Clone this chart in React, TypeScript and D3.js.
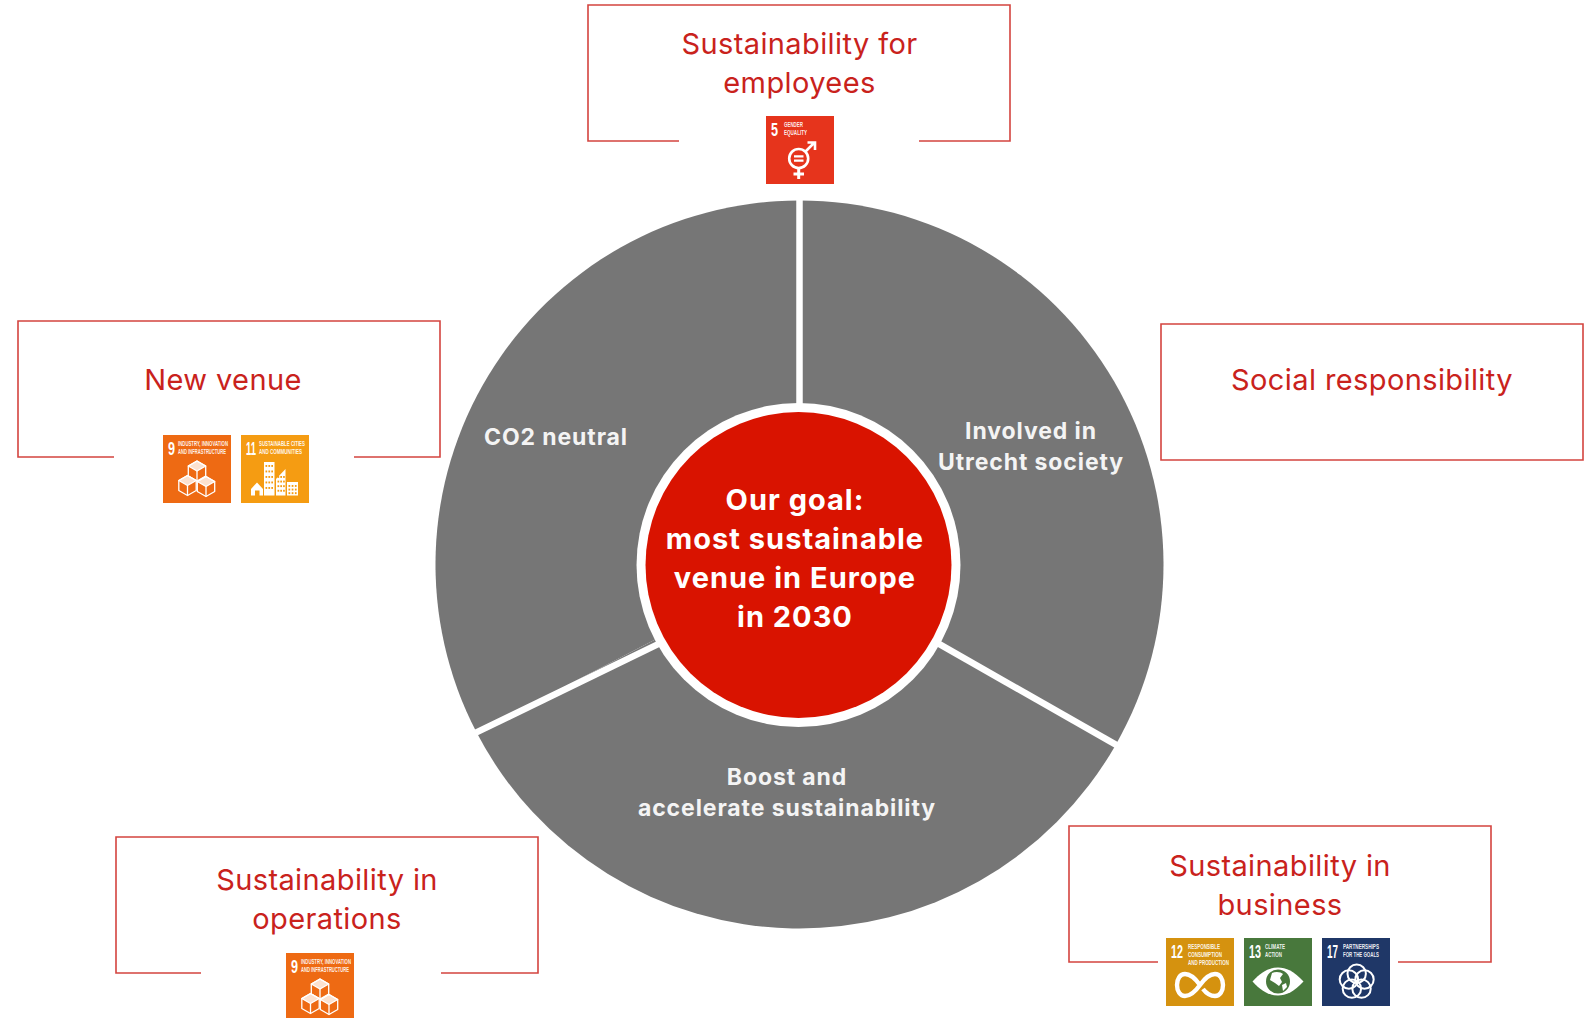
import React from "react";
import * as d3 from "d3";

const W = 1592;
const H = 1018;

// Data
const sliceNames = ["Involved in Utrecht society", "Boost and accelerate sustainability", "CO2 neutral"];
const sliceDegrees = [119.66, 122.89, 117.45];
const dividerOuterDegrees = [0, 119.66, 242.55];
const dividerInnerDegrees = [0, 119.66, 240.54];

const goalLines = ["Our goal:", "most sustainable", "venue in Europe", "in 2030"];
const boxTitles = [
  ["Sustainability for", "employees"],
  ["New venue"],
  ["Social responsibility"],
  ["Sustainability in", "business"],
  ["Sustainability in", "operations"],
];
const boxGoals = [[5], [9, 11], [], [12, 13, 17], [9]];

const sdgColors: Record<number, string> = { 5: "#e6341c", 9: "#ee6a13", 11: "#f59c12", 12: "#d5920f", 13: "#48783c", 17: "#1f3767" };
const sdgLabels: Record<number, string[]> = {
  5: ["GENDER", "EQUALITY"],
  9: ["INDUSTRY, INNOVATION", "AND INFRASTRUCTURE"],
  11: ["SUSTAINABLE CITIES", "AND COMMUNITIES"],
  12: ["RESPONSIBLE", "CONSUMPTION", "AND PRODUCTION"],
  13: ["CLIMATE", "ACTION"],
  17: ["PARTNERSHIPS", "FOR THE GOALS"],
};

// Layout
const cx = 799.5, cy = 564.5, R = 364, ringCx = 798.5, ringCy = 565, ringR = 162, redR = 153;
const boxW = 422, boxH = 136, gapW = 240, tile = 68, tileStep = 78;
const boxLayout = [
  { x: 588, y: 5, textX: 799.5, base: [53.5, 92.5], gapX: 679, tileY: 116, tileX: 766 },
  { x: 18, y: 321, textX: 223, base: [390], gapX: 114, tileY: 435, tileX: 163 },
  { x: 1161, y: 324, textX: 1372, base: [390], gapX: 0, tileY: 0, tileX: 0 },
  { x: 1069, y: 826, textX: 1280, base: [876, 915], gapX: 1158, tileY: 938, tileX: 1166 },
  { x: 116, y: 837, textX: 327, base: [890, 929], gapX: 201, tileY: 953, tileX: 286 },
];
const labelLayout = [
  { x: 1031, base: [439, 470], lines: ["Involved in", "Utrecht society"] },
  { x: 787, base: [785, 816], lines: ["Boost and", "accelerate sustainability"] },
  { x: 556, base: [445], lines: ["CO2 neutral"] },
];
const goalBase = [510, 549, 588, 627];
const sdgStyle: Record<number, { nw: number; lx: number; w: number[] }> = {
  5: { nw: 7, lx: 18, w: [19, 23] },
  9: { nw: 7, lx: 15, w: [50, 48] },
  11: { nw: 10, lx: 18, w: [46, 43] },
  12: { nw: 12, lx: 22, w: [32, 34, 41] },
  13: { nw: 12, lx: 21, w: [20, 17] },
  17: { nw: 11, lx: 21, w: [36, 36] },
};

const RED_TEXT = "#c9221c";
const BOX = "#d4443f";
const GREY = "#767676";
const RED = "#d91300";
const titleFont = "Inter, 'Liberation Sans', sans-serif";
const tileFont = "'Liberation Sans Narrow', 'Liberation Sans', sans-serif";

const rad = (d: number) => (d * Math.PI) / 180;

const measureCtx = document.createElement("canvas").getContext("2d");
function naturalWidth(t: string, size: number) {
  if (!measureCtx) return t.length * size * 0.5;
  measureCtx.font = `700 ${size}px ${tileFont}`;
  return measureCtx.measureText(t).width;
}

// Condensed tile text: squeezed horizontally to the width it has in the picture
function FitText({ t, x, y, w, size, opacity = 1 }: { t: string; x: number; y: number; w: number; size: number; opacity?: number }) {
  const k = w / naturalWidth(t, size);
  return (
    <text transform={`translate(${x},${y}) scale(${k},1)`} fill="#fff" fillOpacity={opacity} fontFamily={tileFont} fontWeight={700} fontSize={size}>
      {t}
    </text>
  );
}

function boxPath(l: typeof boxLayout[number]) {
  const p = d3.path();
  const b = l.y + boxH;
  if (l.gapX) {
    p.moveTo(l.gapX, b);
    p.lineTo(l.x, b);
    p.lineTo(l.x, l.y);
    p.lineTo(l.x + boxW, l.y);
    p.lineTo(l.x + boxW, b);
    p.lineTo(l.gapX + gapW, b);
  } else {
    p.rect(l.x, l.y, boxW, boxH);
  }
  return p.toString();
}

function Cube({ x, y, s, fill }: { x: number; y: number; s: number; fill: string }) {
  const h = s * 0.87, q = s * 0.5;
  return (
    <g stroke="#fff" strokeWidth={1.3} strokeLinejoin="round" fill={fill}>
      <path d={`M${x} ${y - s}L${x + h} ${y - q}L${x + h} ${y + q}L${x} ${y + s}L${x - h} ${y + q}L${x - h} ${y - q}Z`} />
      <path d={`M${x} ${y - s}L${x + h} ${y - q}L${x} ${y}L${x - h} ${y - q}Z`} fill="#fff" fillOpacity={0.8} />
      <path d={`M${x} ${y}L${x} ${y + s}`} fill="none" />
    </g>
  );
}

function Glyph({ n, color }: { n: number; color: string }) {
  if (n === 5) {
    return (
      <g fill="none" stroke="#fff">
        <circle cx={32.7} cy={42.5} r={9.5} strokeWidth={2.6} />
        <path d="M39.5 35.5L48 27M41.5 26.5H49V34" strokeWidth={2.6} />
        <path d="M32.7 52V63M27.5 58H38" strokeWidth={3} />
        <path d="M28 40.3H37.5M28 44.7H37.5" strokeWidth={2.2} />
      </g>
    );
  }
  if (n === 9) {
    return (
      <g>
        <Cube x={34} y={36} s={10} fill={color} />
        <Cube x={24.5} y={50.5} s={10} fill={color} />
        <Cube x={43} y={51.5} s={10} fill={color} />
      </g>
    );
  }
  if (n === 11) {
    const tower = d3.range(5).flatMap((r) => d3.range(3).map((c) => [24.5 + c * 2.9, 30 + r * 5.5]));
    const mid = d3.range(4).flatMap((r) => d3.range(3).map((c) => [36.5 + c * 2.8, 41 + r * 4.6]));
    const low = d3.range(3).flatMap((r) => d3.range(3).map((c) => [47.5 + c * 3.2, 50 + r * 3.6]));
    return (
      <g>
        <path d="M10 54L16 47.5L22 54V60.5H18.5V55.5H14V60.5H10Z" fill="#fff" />
        <rect x={23} y={27} width={10.5} height={33.5} fill="#fff" />
        <path d="M35 60.5V44L44.5 34V60.5Z" fill="#fff" />
        <rect x={46} y={47} width={11} height={13.5} fill="#fff" />
        {[...tower, ...mid, ...low].map(([x, y], i) => (
          <rect key={i} x={x} y={y} width={1.7} height={1.9} fill={color} />
        ))}
      </g>
    );
  }
  if (n === 12) {
    return (
      <path
        d="M34 47C29 40 24 36 19 36C14 36 11 41 11 47C11 53 14 58 19 58C24 58 29 54 34 47C39 40 44 36 49 36C54 36 57 41 57 47C57 53 54 58 49 58C44 58 40 55 37 51"
        fill="none"
        stroke="#fff"
        strokeWidth={4.4}
      />
    );
  }
  if (n === 13) {
    return (
      <g>
        <path d="M8.5 43.5C18 33 26 29.5 34 29.5C42 29.5 50 33 59.5 43.5C50 54 42 57.5 34 57.5C26 57.5 18 54 8.5 43.5Z" fill="#fff" />
        <circle cx={34} cy={43.5} r={12} fill={color} />
        <path d="M28 35C32 33 37 34 39 36L36 40L38 44L35 48L31 45L26 42Z" fill="#fff" />
        <path d="M38 47L42 45L43 49L39 53Z" fill="#fff" />
      </g>
    );
  }
  return (
    <g fill="none" stroke="#fff" strokeWidth={2}>
      {d3.range(5).map((i) => {
        const [x, y] = d3.pointRadial(rad(i * 72), 8.2);
        return <circle key={i} cx={34.7 + x} cy={44 + y} r={9.2} />;
      })}
    </g>
  );
}

function Tile({ n, x, y }: { n: number; x: number; y: number }) {
  const st = sdgStyle[n];
  const color = sdgColors[n];
  return (
    <g transform={`translate(${x},${y})`}>
      <rect width={tile} height={tile} fill={color} />
      <FitText t={String(n)} x={5} y={20} w={st.nw} size={18} />
      {sdgLabels[n].map((t, i) => (
        <FitText key={t} t={t} x={st.lx} y={10.5 + i * 8.3} w={st.w[i]} size={7.2} opacity={0.92} />
      ))}
      <Glyph n={n} color={color} />
    </g>
  );
}

export default function App() {
  const pie = d3.pie<number>().sort(null).value((d) => d);
  const arc = d3.arc<d3.PieArcDatum<number>>().innerRadius(0).outerRadius(R);
  const slices = pie(sliceDegrees);
  return (
    <svg width={W} height={H} viewBox={`0 0 ${W} ${H}`} style={{ position: "absolute", left: 0, top: 0, background: "#fff" }}>
      <g transform={`translate(${cx},${cy})`}>
        {slices.map((s, i) => (
          <path key={sliceNames[i]} d={arc(s) || ""} fill={GREY} />
        ))}
        {dividerOuterDegrees.map((d, i) => {
          const [x1, y1] = d3.pointRadial(rad(dividerInnerDegrees[i]), ringR - 2);
          const [x2, y2] = d3.pointRadial(rad(d), R + 3);
          return <line key={i} x1={x1} y1={y1} x2={x2} y2={y2} stroke="#fff" strokeWidth={6.5} />;
        })}
      </g>
      <circle cx={ringCx} cy={ringCy} r={ringR} fill="#fff" />
      <circle cx={ringCx} cy={ringCy} r={redR} fill={RED} />
      {goalLines.map((t, i) => (
        <text key={t} x={795} y={goalBase[i]} textAnchor="middle" fill="#fff" fontFamily={titleFont} fontWeight={700} fontSize={29} letterSpacing={1}>
          {t}
        </text>
      ))}
      {labelLayout.map((l) =>
        l.lines.map((t, i) => (
          <text key={t} x={l.x} y={l.base[i]} textAnchor="middle" fill="#f4f4f4" fontFamily={titleFont} fontWeight={700} fontSize={23} letterSpacing={0.9}>
            {t}
          </text>
        ))
      )}
      {boxLayout.map((l, i) => (
        <g key={i}>
          <path d={boxPath(l)} fill="none" stroke={BOX} strokeWidth={1.6} />
          {boxTitles[i].map((t, j) => (
            <text key={t} x={l.textX} y={l.base[j]} textAnchor="middle" fill={RED_TEXT} fontFamily={titleFont} fontWeight={400} fontSize={29} letterSpacing={0.4}>
              {t}
            </text>
          ))}
          {boxGoals[i].map((n, j) => (
            <Tile key={n} n={n} x={l.tileX + j * tileStep} y={l.tileY} />
          ))}
        </g>
      ))}
    </svg>
  );
}
